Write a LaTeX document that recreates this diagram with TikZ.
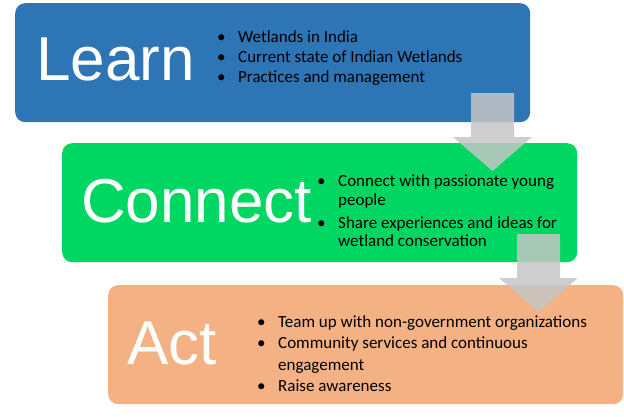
\documentclass[tikz,border=0pt]{standalone}
\usepackage{fontspec}
\usepackage{tikz}
\usetikzlibrary{positioning,calc}
\newfontfamily\titlefont{Liberation Sans}
\newfontfamily\pointfont{Carlito}
\definecolor{learnblue}{RGB}{46,117,182}
\definecolor{connectgreen}{RGB}{0,214,98}
\definecolor{actorange}{RGB}{244,177,131}
\definecolor{flowgray}{RGB}{198,198,198}

\begin{document}
\begin{tikzpicture}[x=1pt, y=-1pt,
  stage/.style={rounded corners=10pt, minimum width=515pt, minimum height=119pt, anchor=north west, inner sep=0pt},
  title/.style={font=\titlefont\fontsize{62}{62}\selectfont, text=white, anchor=base west, inner sep=0pt},
  points/.style={font=\pointfont\fontsize{17}{20.4}\selectfont, anchor=base west, inner sep=0pt},
  flow/.style={fill=flowgray, fill opacity=0.85}]
  \useasboundingbox (0,0) rectangle (624,416);

  % the three stages
  \node[stage, fill=learnblue] (learn) at (15,3) {};
  \node[stage, fill=connectgreen] (connect) at (62,143) {};
  \node[stage, fill=actorange] (act) at (108,285) {};

  % arrows between stages
  \coordinate (a1) at (492.5,93);
  \coordinate (a2) at (538.5,234);
  \foreach \c in {a1,a2}
    \fill[flow] (\c) +(-21.5,0) -- +(21.5,0) -- +(21.5,44) -- +(39.5,44)
      -- +(0,78) -- +(-39.5,44) -- +(-21.5,44) -- cycle;

  % titles
  \node[title] (learn-t) at (36,80) {Learn};
  \node[title] (connect-t) at (81,222) {Connect};
  \node[title] (act-t) at (127,364) {Act};

  % bullet points
  \node[points] (learn-p) at (217,42) {\begin{tabular}[t]{@{}p{21pt}@{}l@{}}
    \textbullet & Wetlands in India\\
    \textbullet & Current state of Indian Wetlands\\
    \textbullet & Practices and management
  \end{tabular}};
  \node[points] (connect-p) at (317,186.5) {\begin{tabular}[t]{@{}p{21pt}@{}l@{}}
    \textbullet & Connect with passionate young\\[-1.4pt]
                & people\\[2.6pt]
    \textbullet & Share experiences and ideas for\\[-2.1pt]
                & wetland conservation
  \end{tabular}};
  \node[points] (act-p) at (257,327) {\begin{tabular}[t]{@{}p{21pt}@{}l@{}}
    \textbullet & Team up with non-government organizations\\[1.5pt]
    \textbullet & Community services and continuous\\[0.9pt]
                & engagement\\[0.9pt]
    \textbullet & Raise awareness
  \end{tabular}};
\end{tikzpicture}
\end{document}
